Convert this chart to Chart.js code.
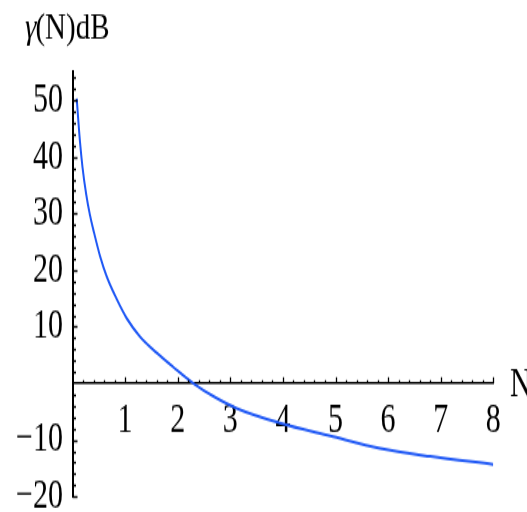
<!DOCTYPE html>
<html>
<head>
<meta charset="utf-8">
<title>γ(N) dB</title>
<script src="https://cdn.jsdelivr.net/npm/chart.js@4.4.1/dist/chart.umd.min.js"></script>
<style>
  html { overflow: hidden; }
  html, body { margin: 0; padding: 0; background: #fff; }
  body { width: 527px; height: 512px; }
  /* plot is drawn at a lower height and stretched tall, like the original figure */
  #wrap { width: 527px; height: 358px; transform: scaleY(1.4302); transform-origin: 0 0; }
</style>
</head>
<body>
<div id="wrap"><canvas id="chart" width="527" height="358"></canvas></div>
<script>
// gamma(N) in dB
const nValues = [0.08, 0.14, 0.19, 0.26, 0.33, 0.41, 0.52, 0.65, 0.84, 1.03, 1.28, 1.6, 1.92, 2.3, 2.7, 3.12, 3.94, 4.9, 5.85, 6.8, 8.0];
const gammaDb = [50.3, 42.9, 38.2, 33.4, 29.8, 26.6, 22.6, 18.9, 14.9, 11.5, 8.3, 5.4, 2.85, 0, -2.4, -4.4, -7.0, -9.3, -11.5, -12.9, -14.3];

// axis ranges and labelled ticks
const xRange = [0, 8];
const yRange = [-20, 55];
const xTicks = [1, 2, 3, 4, 5, 6, 7, 8];
const yTicks = [-20, -10, 10, 20, 30, 40, 50];
const xMinor = 0.2;
const yMinor = 2;

const serif = "'Liberation Serif', 'Times New Roman', serif";
const tickFont = { family: serif, size: 30 };

const fmt = v => (v < 0 ? '\u2212' + Math.abs(v) : String(v));

// little Mathematica-style tick marks, drawn inward from both axes
const axisTicks = {
  id: 'axisTicks',
  afterDraw(chart) {
    const { ctx, scales: { x, y } } = chart;
    const y0 = y.getPixelForValue(0);
    const x0 = x.getPixelForValue(0);
    ctx.save();
    ctx.strokeStyle = '#000';
    ctx.lineWidth = 1.3;
    ctx.beginPath();
    for (let i = 1; i * xMinor <= xRange[1] + 1e-9; i++) {
      const v = i * xMinor;
      const px = Math.round(x.getPixelForValue(v)) + 0.5;
      const major = xTicks.some(t => Math.abs(t - v) < 1e-6);
      ctx.moveTo(px, y0);
      ctx.lineTo(px, y0 - (major ? 4.2 : 2.4));
    }
    ctx.stroke();
    ctx.lineWidth = 1.4;
    ctx.beginPath();
    for (let v = yRange[0]; v <= yRange[1]; v += yMinor) {
      if (v === 0) continue;
      const py = Math.round(y.getPixelForValue(v)) + 0.5;
      const major = yTicks.includes(v);
      ctx.moveTo(x0, py);
      ctx.lineTo(x0 + (major ? 5 : 3.5), py);
    }
    ctx.stroke();

    // axis names
    ctx.fillStyle = '#000';
    ctx.textBaseline = 'alphabetic';
    ctx.textAlign = 'left';
    ctx.font = '30px ' + serif;
    ctx.fillText('N', 510, y0 + 9);

    ctx.translate(25, 26.6);
    ctx.scale(1, 0.867);
    ctx.font = 'italic 29px ' + serif;
    ctx.fillText('\u03b3', 0, 0);
    const gw = ctx.measureText('\u03b3').width;
    ctx.font = '29px ' + serif;
    ctx.fillText('(N)dB', gw - 1, 0);
    ctx.restore();
  }
};

new Chart(document.getElementById('chart'), {
  type: 'line',
  data: {
    datasets: [{
      data: nValues.map((n, i) => ({ x: n, y: gammaDb[i] })),
      borderColor: '#1f58f5',
      borderWidth: 2,
      pointRadius: 0,
      fill: false,
      cubicInterpolationMode: 'monotone'
    }]
  },
  options: {
    responsive: false,
    animation: false,
    devicePixelRatio: 1,
    layout: { padding: { top: 50.3, bottom: 10.8, left: 0, right: 33.7 } },
    plugins: { legend: { display: false }, tooltip: { enabled: false } },
    scales: {
      x: {
        type: 'linear',
        min: xRange[0],
        max: xRange[1],
        position: { y: 0 },
        afterFit: s => { s.height = 0; s.paddingLeft = 0; s.paddingRight = 0; },
        afterBuildTicks: s => { s.ticks = xTicks.map(v => ({ value: v })); },
        border: { color: '#000', width: 1.6 },
        grid: { display: false, drawTicks: false },
        ticks: {
          autoSkip: false,
          maxRotation: 0,
          padding: 7.7,
          color: '#000',
          font: tickFont,
          callback: v => fmt(v)
        }
      },
      y: {
        type: 'linear',
        min: yRange[0],
        max: yRange[1],
        position: 'left',
        afterFit: s => { s.width = 72.5; s.paddingTop = 0; s.paddingBottom = 0; },
        afterBuildTicks: s => { s.ticks = yTicks.map(v => ({ value: v })); },
        border: { color: '#000', width: 2 },
        grid: { display: false, drawTicks: false },
        ticks: {
          autoSkip: false,
          padding: 9.5,
          color: '#000',
          font: tickFont,
          callback: v => fmt(v)
        }
      }
    }
  },
  plugins: [axisTicks]
});
</script>
</body>
</html>
